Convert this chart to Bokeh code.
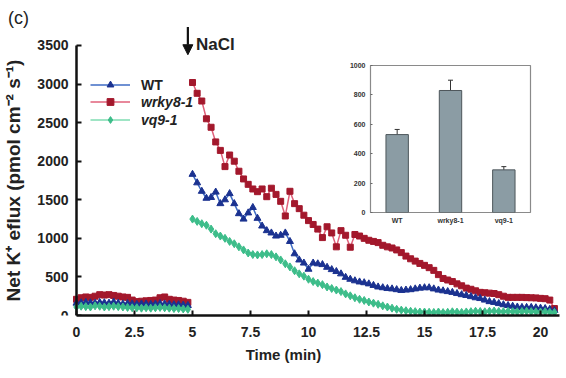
from bokeh.plotting import figure
from bokeh.models import (Range1d, Legend, LegendItem, Label, Arrow, NormalHead,
                          Whisker, ColumnDataSource, FactorRange, FixedTicker, TeeHead)
from bokeh.embed import file_html
from bokeh.resources import INLINE

# ---------------- data ----------------
t_pre = [0.0, 0.2, 0.4, 0.6, 0.8, 1.0, 1.2, 1.4, 1.6, 1.8, 2.0, 2.2, 2.4, 2.6, 2.8,
         3.0, 3.2, 3.4, 3.6, 3.8, 4.0, 4.2, 4.4, 4.6, 4.8]
wt_pre = [160, 165, 170, 165, 160, 170, 165, 160, 175, 160, 150, 155, 150, 145, 150,
          150, 145, 150, 155, 150, 145, 140, 140, 135, 130]
wrky_pre = [210, 230, 240, 235, 250, 270, 265, 270, 260, 250, 240, 235, 200, 180, 185,
            190, 195, 200, 230, 240, 210, 200, 195, 185, 170]
vq_pre = [110, 120, 115, 110, 125, 120, 110, 115, 120, 115, 110, 105, 100, 100, 95,
          100, 95, 100, 105, 100, 95, 90, 90, 85, 80]

t_post = [5.0, 5.2, 5.4, 5.6, 5.8, 6.0, 6.2, 6.4, 6.6, 6.8,
          7.0, 7.2, 7.4, 7.6, 7.8, 8.0, 8.2, 8.4, 8.6, 8.8,
          9.0, 9.2, 9.4, 9.6, 9.8, 10.0, 10.2, 10.4, 10.6, 10.8,
          11.0, 11.2, 11.4, 11.6, 11.8, 12.0, 12.2, 12.4, 12.6, 12.8,
          13.0, 13.2, 13.4, 13.6, 13.8, 14.0, 14.2, 14.4, 14.6, 14.8,
          15.0, 15.2, 15.4, 15.6, 15.8, 16.0, 16.2, 16.4, 16.6, 16.8,
          17.0, 17.2, 17.4, 17.6, 17.8, 18.0, 18.2, 18.4, 18.6, 18.8,
          19.0, 19.2, 19.4, 19.6, 19.8, 20.0, 20.2, 20.4, 20.6]
wrky_post = [3020, 2880, 2780, 2550, 2440, 2250, 2140, 1930, 2080, 2000,
             1870, 1770, 1700, 1640, 1605, 1640, 1540, 1650, 1570, 1480,
             1290, 1610, 1450, 1385, 1300, 1230, 1180, 1120, 1010, 1150,
             1070, 890, 1100, 1040, 885, 1050, 1030, 1000, 975, 960,
             945, 910, 890, 875, 850, 815, 770, 735, 705, 675,
             650, 620, 585, 530, 480, 460, 440, 410, 385, 355,
             340, 320, 300, 295, 290, 285, 270, 250, 235, 235,
             235, 235, 232, 230, 228, 222, 218, 200, 90]
wt_post = [1830, 1720, 1610, 1520, 1530, 1600, 1450, 1500, 1580, 1450,
           1320, 1250, 1330, 1400, 1260, 1160, 1100, 1070, 1030, 1040,
           1070, 960, 800, 720, 680, 600, 680, 670, 660, 625,
           595, 570, 540, 495, 470, 450, 435, 425, 410, 390,
           370, 360, 350, 345, 335, 325, 330, 335, 345, 355,
           360, 360, 345, 330, 320, 310, 300, 285, 270, 260,
           245, 230, 220, 200, 180, 170, 155, 140, 130, 120,
           110, 105, 105, 105, 100, 95, 90, 80, 65]
vq_post = [1250, 1220, 1190, 1170, 1120, 1060, 1030, 1000, 960, 930,
           890, 850, 810, 790, 785, 790, 800, 790, 760, 720,
           670, 630, 580, 540, 510, 470, 440, 420, 400, 370,
           350, 330, 310, 280, 255, 230, 210, 195, 175, 160,
           145, 125, 110, 95, 80, 70, 62, 55, 50, 45,
           45, 42, 40, 45, 38, 42, 48, 44, 40, 46,
           50, 55, 52, 48, 55, 58, 52, 50, 55, 50,
           48, 52, 55, 50, 48, 45, 50, 42, 40]

x_ticks = [0, 2.5, 5, 7.5, 10, 12.5, 15, 17.5, 20]
x_tick_labels = ["0", "2.5", "5", "7.5", "10", "12.5", "15", "17.5", "20"]
y_ticks = [0, 500, 1000, 1500, 2000, 2500, 3000, 3500]

inset_cats = ["WT", "wrky8-1", "vq9-1"]
inset_means = [530, 830, 290]
inset_errs = [35, 70, 22]
inset_ticks = [0, 200, 400, 600, 800, 1000]

FONT = "Liberation Sans"

# ---------------- main figure ----------------
# frame spans the whole canvas width/top; axes limited by bounds
p = figure(width=566, height=378, output_backend="svg", toolbar_location=None,
           x_range=Range1d(-3.276, 21.12), y_range=Range1d(0, 4083),
           min_border_left=0, min_border_right=0, min_border_top=0, min_border_bottom=63,
           styles={"position": "absolute", "left": "0px", "top": "0px"})
p.outline_line_color = None
p.xgrid.visible = False
p.ygrid.visible = False
p.background_fill_color = "white"
p.border_fill_color = "white"

for ax in (p.xaxis[0], p.yaxis[0]):
    ax.axis_line_width = 2.5
    ax.axis_line_color = "#111111"
    ax.major_tick_line_width = 2
    ax.major_tick_line_color = "#111111"
    ax.major_tick_in = 5
    ax.major_tick_out = 0
    ax.minor_tick_line_color = None
    ax.major_label_text_font = FONT
    ax.major_label_text_font_style = "bold"
    ax.major_label_text_font_size = "14px"
    ax.major_label_text_color = "#222222"
    ax.axis_label_text_font = FONT
    ax.axis_label_text_font_style = "bold"
    ax.axis_label_text_color = "#222222"

p.xaxis.ticker = FixedTicker(ticks=x_ticks)
p.xaxis.major_label_overrides = dict(zip(x_ticks, x_tick_labels))
p.xaxis.bounds = (0, 20.8)
p.xaxis.axis_label = "Time (min)"
p.xaxis.axis_label_text_font_size = "15px"
p.xaxis.major_label_standoff = 11
p.xaxis.axis_label_standoff = 6

p.yaxis.ticker = FixedTicker(ticks=y_ticks)
p.yaxis.bounds = (0, 3500)
p.yaxis.fixed_location = 0
p.yaxis.axis_label = "Net K\u207a eflux (pmol cm\u207b\u00b2 s\u207b\u00b9)"
p.yaxis.axis_label_text_font_size = "19px"
p.yaxis.major_label_standoff = 8
p.yaxis.axis_label_standoff = 10

RED_M, RED_L = "#a3182c", "#e0607a"
BLUE_M, BLUE_L = "#1b3290", "#3f6cc4"
GREEN_M, GREEN_L = "#3dbd8a", "#7fdcb2"

def series(t, v, marker, mcol, lcol, size):
    ln = p.line(t, v, line_color=lcol, line_width=1.5)
    sc = p.scatter(t, v, marker=marker, size=size, fill_color=mcol, line_color=mcol)
    return ln, sc

series(t_pre, wrky_pre, "square", RED_M, RED_L, 6)
r_l, r_s = series(t_post, wrky_post, "square", RED_M, RED_L, 6)
series(t_pre, wt_pre, "triangle", BLUE_M, BLUE_L, 7)
b_l, b_s = series(t_post, wt_post, "triangle", BLUE_M, BLUE_L, 7)
series(t_pre, vq_pre, "diamond", GREEN_M, GREEN_L, 8)
g_l, g_s = series(t_post, vq_post, "diamond", GREEN_M, GREEN_L, 8)

def make_legend(items, style, loc):
    lg = Legend(items=items, location=loc, padding=0, margin=0, spacing=1,
                glyph_width=40, glyph_height=17, label_standoff=11,
                border_line_alpha=0, background_fill_alpha=0,
                label_text_font=FONT, label_text_font_style=style,
                label_text_font_size="14px", label_text_color="#222222")
    p.add_layout(lg, "center")

make_legend([LegendItem(label="WT", renderers=[b_l, b_s])], "bold", (90, 222))
make_legend([LegendItem(label="wrky8-1", renderers=[r_l, r_s]),
             LegendItem(label="vq9-1", renderers=[g_l, g_s])], "bold italic", (90, 187))

# annotations
p.add_layout(Label(x=-2.95, y=3860, text="(c)", text_font=FONT, text_font_size="18px",
                   text_baseline="middle", text_color="#222222"))
p.add_layout(Arrow(x_start=4.8, y_start=3740, x_end=4.8, y_end=3380, line_width=2.2,
                   line_color="#111111",
                   end=NormalHead(size=10, fill_color="#111111", line_color="#111111")))
p.add_layout(Label(x=5.15, y=3510, text="NaCl", text_font=FONT, text_font_size="17px",
                   text_font_style="bold", text_baseline="middle", text_color="#222222"))

# ---------------- inset ----------------
inset = figure(width=195, height=177, output_backend="svg", toolbar_location=None,
               x_range=FactorRange(factors=inset_cats, range_padding=0),
               y_range=Range1d(0, 1000),
               min_border_left=30, min_border_right=5, min_border_top=10, min_border_bottom=20,
               styles={"position": "absolute", "left": "340px", "top": "55px"})
inset.border_fill_color = None
inset.background_fill_color = "white"
inset.outline_line_color = "#8a8a8a"
inset.outline_line_width = 1.2
inset.xgrid.visible = False
inset.ygrid.visible = False

src = ColumnDataSource(dict(
    cat=inset_cats, val=inset_means,
    upper=[m + e for m, e in zip(inset_means, inset_errs)],
    lower=[m - e for m, e in zip(inset_means, inset_errs)]))
inset.vbar(x="cat", top="val", width=0.42, source=src,
           fill_color="#8b9ca4", line_color="#4d565b", line_width=1)
inset.add_layout(Whisker(source=src, base="cat", upper="upper", lower="lower",
                         line_color="#333333", line_width=1,
                         upper_head=TeeHead(size=5, line_color="#333333"),
                         lower_head=TeeHead(size=5, line_color="#333333")))

for ax in (inset.xaxis[0], inset.yaxis[0]):
    ax.axis_line_color = None
    ax.major_tick_line_color = "#666666"
    ax.major_tick_in = 2
    ax.major_tick_out = 0
    ax.minor_tick_line_color = None
    ax.major_label_text_font = FONT
    ax.major_label_text_font_style = "bold"
    ax.major_label_text_font_size = "7px"
    ax.major_label_text_color = "#333333"
inset.xaxis.major_tick_line_color = None
inset.xaxis.major_label_standoff = 4
inset.yaxis.ticker = FixedTicker(ticks=inset_ticks)
inset.yaxis.major_label_standoff = 5

open("out.html", "w").write(file_html([p, inset], INLINE))
